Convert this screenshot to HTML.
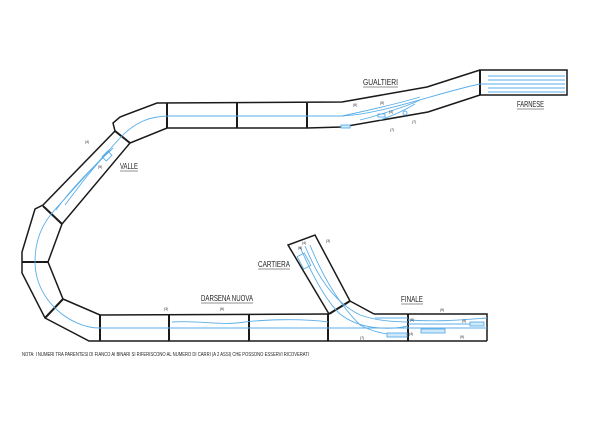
<!DOCTYPE html>
<html><head><meta charset="utf-8"><style>
html,body{margin:0;padding:0;background:#fff;width:600px;height:424px;overflow:hidden}
svg{display:block}
text{font-family:"Liberation Sans",sans-serif;fill:#222}
</style></head><body>
<svg width="600" height="424" viewBox="0 0 600 424" xmlns="http://www.w3.org/2000/svg">
<g fill="none" stroke="#1a1a1a" stroke-width="1.5" stroke-linejoin="miter">
<!-- outer loop -->
<polyline points="487,341 89,341 45,318 22,273 22,252 35,209 43,205 115,131 113,123 120,117 157,103 342,102 427,87 480,70"/>
<polyline points="374,314 487,314 487,341"/>
<polyline points="329,314 100,315 63,299 48,262 62,224 130,143 167,128 307,128 342,127 428,112 480,95"/>
<rect x="480" y="70" width="87" height="25"/>
<!-- cartiera -->
<polyline points="329,314 288,245 315,235 350,301 374,314"/>
</g>
<g stroke="#1a1a1a" stroke-width="2">
<line x1="100" y1="315" x2="100" y2="341"/>
<line x1="169" y1="315" x2="169" y2="341"/>
<line x1="249" y1="315" x2="249" y2="341"/>
<line x1="328" y1="314" x2="328" y2="341"/>
<line x1="408" y1="314" x2="408" y2="341"/>
<line x1="45" y1="318" x2="63" y2="299"/>
<line x1="22" y1="262" x2="48" y2="262"/>
<line x1="43" y1="206" x2="62" y2="224"/>
<line x1="115" y1="131" x2="130" y2="143"/>
<line x1="167" y1="103" x2="167" y2="128"/>
<line x1="237" y1="103" x2="237" y2="128"/>
<line x1="307" y1="103" x2="307" y2="128"/>
<line x1="480" y1="70" x2="480" y2="95"/>
<line x1="329" y1="314" x2="350" y2="301"/>
</g>
<g fill="none" stroke="#5aaee8" stroke-width="0.9">
<path d="M487,328 L100,328 C70,328 35,300 35,262 C35,230 50,215 60,204 L120,138 C135,122 150,116 170,116 L340,116 C380,115 440,92 480,84 L565,84"/>
<line x1="488" y1="76" x2="565" y2="76"/><line x1="488" y1="80" x2="565" y2="80"/>
<line x1="488" y1="88" x2="565" y2="88"/><line x1="488" y1="92" x2="565" y2="92"/>
<path d="M342,116 C370,110 400,103 420,97"/><path d="M360,120 C380,115 410,105 420,100"/>
<path d="M380,120 C395,115 405,110 415,104"/>
<path d="M56,210 C70,190 90,170 113,148"/><path d="M65,205 C80,185 95,165 110,150"/>
<path d="M172,322 C200,320 220,326 245,322 C260,320 300,318 328,322"/>
<path d="M300,247 C310,270 325,300 340,314 C360,330 390,330 408,326"/>
<path d="M305,246 C315,270 330,300 360,315 C380,322 400,322 408,322"/>
<path d="M310,245 C320,270 335,300 360,325 C380,336 400,335 405,335"/>
<path d="M375,318 L408,318"/>
<path d="M408,320 C440,322 460,320 487,318"/><path d="M408,324 L470,324"/>
<rect x="387" y="333" width="20" height="4" fill="#cfe8fa"/>
<rect x="421" y="329" width="24" height="4" fill="#cfe8fa"/>
<rect x="470" y="322" width="14" height="4" fill="#cfe8fa"/>
<rect x="300" y="254" width="8" height="14" transform="rotate(-28 304 261)"/>
<rect x="341" y="125" width="9" height="3" fill="#cfe8fa"/>
<rect x="378" y="114" width="7" height="3"/>
<circle cx="405" cy="113" r="2"/>
<rect x="103" y="153" width="8" height="6" transform="rotate(-45 107 156)"/>
</g>
<g font-size="3.5" fill="#333">
<text x="85" y="143">(4)</text><text x="98" y="168">(5)</text>
<text x="353" y="106">(6)</text><text x="380" y="104">(5)</text><text x="389" y="113">(3)</text><text x="390" y="131">(7)</text><text x="412" y="123">(7)</text>
<text x="164" y="310">(3)</text><text x="220" y="310">(6)</text>
<text x="326" y="242">(3)</text><text x="302" y="244">(4)</text><text x="298" y="249">(6)</text>
<text x="410" y="321">(5)</text><text x="440" y="311">(9)</text><text x="462" y="322">(5)</text><text x="460" y="338">(9)</text><text x="360" y="339">(7)</text><text x="409" y="335">(4)</text>
</g>
<g font-size="8">
<text x="363" y="85" textLength="35" lengthAdjust="spacingAndGlyphs">GUALTIERI</text>
<line x1="363" y1="87" x2="398" y2="87" stroke="#222" stroke-width="0.6"/>
<text x="517" y="107" textLength="27" lengthAdjust="spacingAndGlyphs">FARNESE</text>
<line x1="517" y1="109" x2="544" y2="109" stroke="#222" stroke-width="0.6"/>
<text x="120" y="169" textLength="18" lengthAdjust="spacingAndGlyphs">VALLE</text>
<line x1="120" y1="171" x2="138" y2="171" stroke="#222" stroke-width="0.6"/>
<text x="258" y="267" textLength="32" lengthAdjust="spacingAndGlyphs">CARTIERA</text>
<line x1="258" y1="269" x2="290" y2="269" stroke="#222" stroke-width="0.6"/>
<text x="201" y="301" textLength="52" lengthAdjust="spacingAndGlyphs">DARSENA NUOVA</text>
<line x1="201" y1="303" x2="253" y2="303" stroke="#222" stroke-width="0.6"/>
<text x="401" y="302" textLength="22" lengthAdjust="spacingAndGlyphs">FINALE</text>
<line x1="401" y1="304" x2="423" y2="304" stroke="#222" stroke-width="0.6"/>
</g>
<text x="22" y="356" font-size="5" textLength="287" lengthAdjust="spacingAndGlyphs">NOTA: I NUMERI TRA PARENTESI DI FIANCO AI BINARI SI RIFERISCONO AL NUMERO DI CARRI (A 2 ASSI) CHE POSSONO ESSERVI RICOVERATI</text>
</svg>
</body></html>
